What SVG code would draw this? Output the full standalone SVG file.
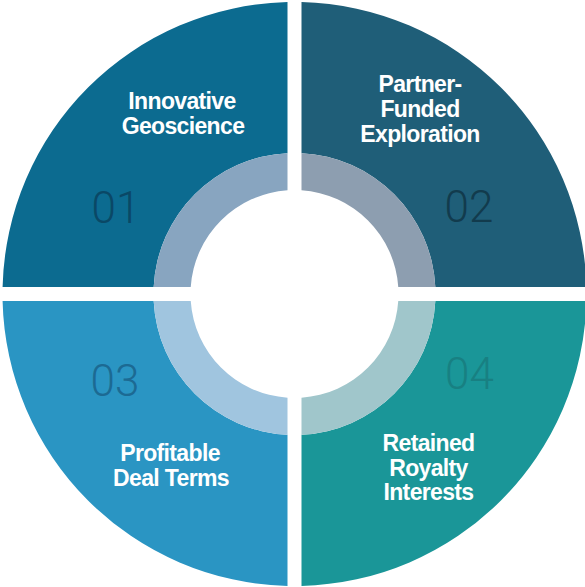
<svg xmlns="http://www.w3.org/2000/svg" width="585" height="587" viewBox="0 0 585 587">
<style>
.lbl{font-family:"Liberation Sans",Arial,sans-serif;font-weight:bold;font-size:23px;fill:#ffffff;text-anchor:middle;letter-spacing:-0.65px}
.num{font-family:Roboto,"Open Sans",sans-serif;font-weight:300;font-size:44px;text-anchor:middle}
</style>
<rect width="585" height="587" fill="#ffffff"/>
<g id="q1">
<path d="M287.5,2.08 A292,292 0 0 0 2.58,287 L153.67,287 A141,141 0 0 1 287.5,153.17 Z" fill="#0c6b90"/>
<path d="M287.5,153.17 A141,141 0 0 0 153.67,287 L190.74,287 A104,104 0 0 1 287.5,190.24 Z" fill="#88a5c0"/>
<text class="num" x="116" y="223" fill="#0a4866">01</text>
<text class="lbl" x="182" y="109">Innovative</text>
<text class="lbl" x="183" y="134">Geoscience</text>
</g>
<g id="q2">
<path d="M301.5,2.08 A292,292 0 0 1 586.42,287 L435.33,287 A141,141 0 0 0 301.5,153.17 Z" fill="#1f5e78"/>
<path d="M301.5,153.17 A141,141 0 0 1 435.33,287 L398.26,287 A104,104 0 0 0 301.5,190.24 Z" fill="#8d9eb0"/>
<text class="num" x="469" y="222" fill="#123b4d">02</text>
<text class="lbl" x="420" y="91.5">Partner-</text>
<text class="lbl" x="420" y="116.5">Funded</text>
<text class="lbl" x="420" y="141.5">Exploration</text>
</g>
<g id="q3">
<path d="M2.58,301 A292,292 0 0 0 287.5,585.92 L287.5,434.83 A141,141 0 0 1 153.67,301 Z" fill="#2a95c3"/>
<path d="M153.67,301 A141,141 0 0 0 287.5,434.83 L287.5,397.76 A104,104 0 0 1 190.74,301 Z" fill="#a0c5df"/>
<text class="num" x="115" y="396" fill="#1c6a93">03</text>
<text class="lbl" x="170" y="461">Profitable</text>
<text class="lbl" x="171" y="486">Deal Terms</text>
</g>
<g id="q4">
<path d="M586.42,301 A292,292 0 0 1 301.5,585.92 L301.5,434.83 A141,141 0 0 0 435.33,301 Z" fill="#1a9698"/>
<path d="M435.33,301 A141,141 0 0 1 301.5,434.83 L301.5,397.76 A104,104 0 0 0 398.26,301 Z" fill="#a0c6cb"/>
<text class="num" x="469.5" y="389" fill="#188082">04</text>
<text class="lbl" x="428.5" y="451">Retained</text>
<text class="lbl" x="428.5" y="475.5">Royalty</text>
<text class="lbl" x="428.5" y="500">Interests</text>
</g>
<g id="connectors"/>
</svg>
